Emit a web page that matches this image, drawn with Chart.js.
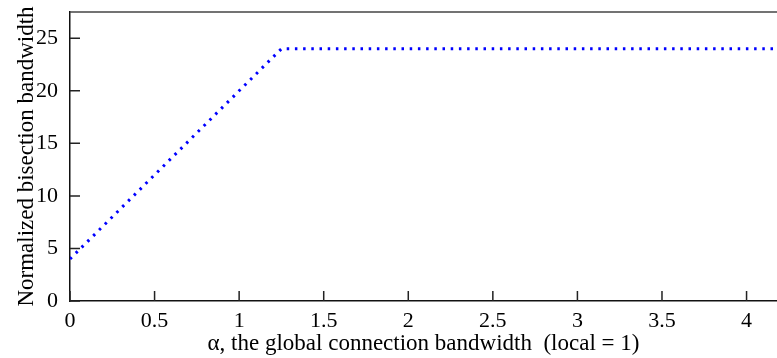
<!DOCTYPE html>
<html>
<head>
<meta charset="utf-8">
<script src="https://cdn.jsdelivr.net/npm/chart.js@4/dist/chart.umd.min.js"></script>
<style>
  html, body { margin: 0; padding: 0; background: #fff; }
  #wrap { width: 777px; height: 358px; }
</style>
</head>
<body>
<div id="wrap"><canvas id="myChart" width="777" height="358"></canvas></div>
<script>
// alpha values (global link bandwidth) and the bisection bandwidth they give
const alphaValues = [0, 1.25, 4.2];
const bisectionValues = [4, 24, 24];
const xTickValues = [0, 0.5, 1, 1.5, 2, 2.5, 3, 3.5, 4];
const yTickValues = [0, 5, 10, 15, 20, 25];

const serif = "'Liberation Serif', 'DejaVu Serif', serif";

// inward tick marks + the top frame line
const frame = {
    id: 'frame',
    afterDraw(chart) {
        const {ctx, chartArea, scales} = chart;
        ctx.save();
        ctx.strokeStyle = '#222';
        ctx.lineWidth = 1.5;
        ctx.beginPath();
        xTickValues.forEach(v => {
            const px = scales.x.getPixelForValue(v);
            ctx.moveTo(px, chartArea.bottom);
            ctx.lineTo(px, chartArea.bottom - 10);
        });
        yTickValues.forEach(v => {
            const py = scales.y.getPixelForValue(v);
            ctx.moveTo(chartArea.left, py);
            ctx.lineTo(chartArea.left + 10, py);
        });
        ctx.stroke();
        ctx.strokeStyle = '#444';
        ctx.beginPath();
        ctx.moveTo(chartArea.left, chartArea.top);
        ctx.lineTo(chartArea.right, chartArea.top);
        ctx.stroke();
        ctx.restore();
    }
};

const ctx = document.getElementById('myChart').getContext('2d');
const chart = new Chart(ctx, {
    type: 'line',
    data: {
        datasets: [{
            data: alphaValues.map((a, i) => ({x: a, y: bisectionValues[i]})),
            borderColor: '#0000ff',
            borderWidth: 3,
            borderDash: [2.5, 5.7],
            pointRadius: 0,
            tension: 0,
            fill: false
        }]
    },
    options: {
        responsive: false,
        animation: false,
        layout: { padding: { top: 12, right: 0, left: 0, bottom: 0 } },
        plugins: {
            legend: { display: false },
            tooltip: { enabled: false }
        },
        scales: {
            x: {
                type: 'linear',
                min: 0,
                max: 4.18,
                afterFit: s => {
                    s.height = 57;
                    s.paddingLeft = 0;
                    s.paddingRight = 0;
                },
                afterBuildTicks: s => { s.ticks = xTickValues.map(v => ({value: v})); },
                grid: { display: false, drawTicks: false },
                border: { display: true, color: '#111', width: 1.5 },
                ticks: {
                    padding: 7,
                    color: '#000',
                    maxRotation: 0,
                    font: { family: serif, size: 22 },
                    callback: v => String(v)
                },
                title: {
                    display: true,
                    text: 'α, the global connection bandwidth  (local = 1)',
                    color: '#000',
                    font: { family: serif, size: 23 },
                    padding: { top: 0, bottom: 0 }
                }
            },
            y: {
                min: 0,
                max: 27.5,
                afterFit: s => {
                    s.width = 70;
                    s.paddingTop = 0;
                    s.paddingBottom = 0;
                },
                afterBuildTicks: s => { s.ticks = yTickValues.map(v => ({value: v})); },
                grid: { display: false, drawTicks: false },
                border: { display: true, color: '#111', width: 1.5 },
                ticks: {
                    padding: 12,
                    color: '#000',
                    font: { family: serif, size: 22 },
                    callback: v => String(v)
                },
                title: {
                    display: true,
                    text: 'Normalized bisection bandwidth',
                    color: '#000',
                    font: { family: serif, size: 23 },
                    padding: { top: 13, bottom: 0 }
                }
            }
        }
    },
    plugins: [frame]
});
</script>
</body>
</html>
